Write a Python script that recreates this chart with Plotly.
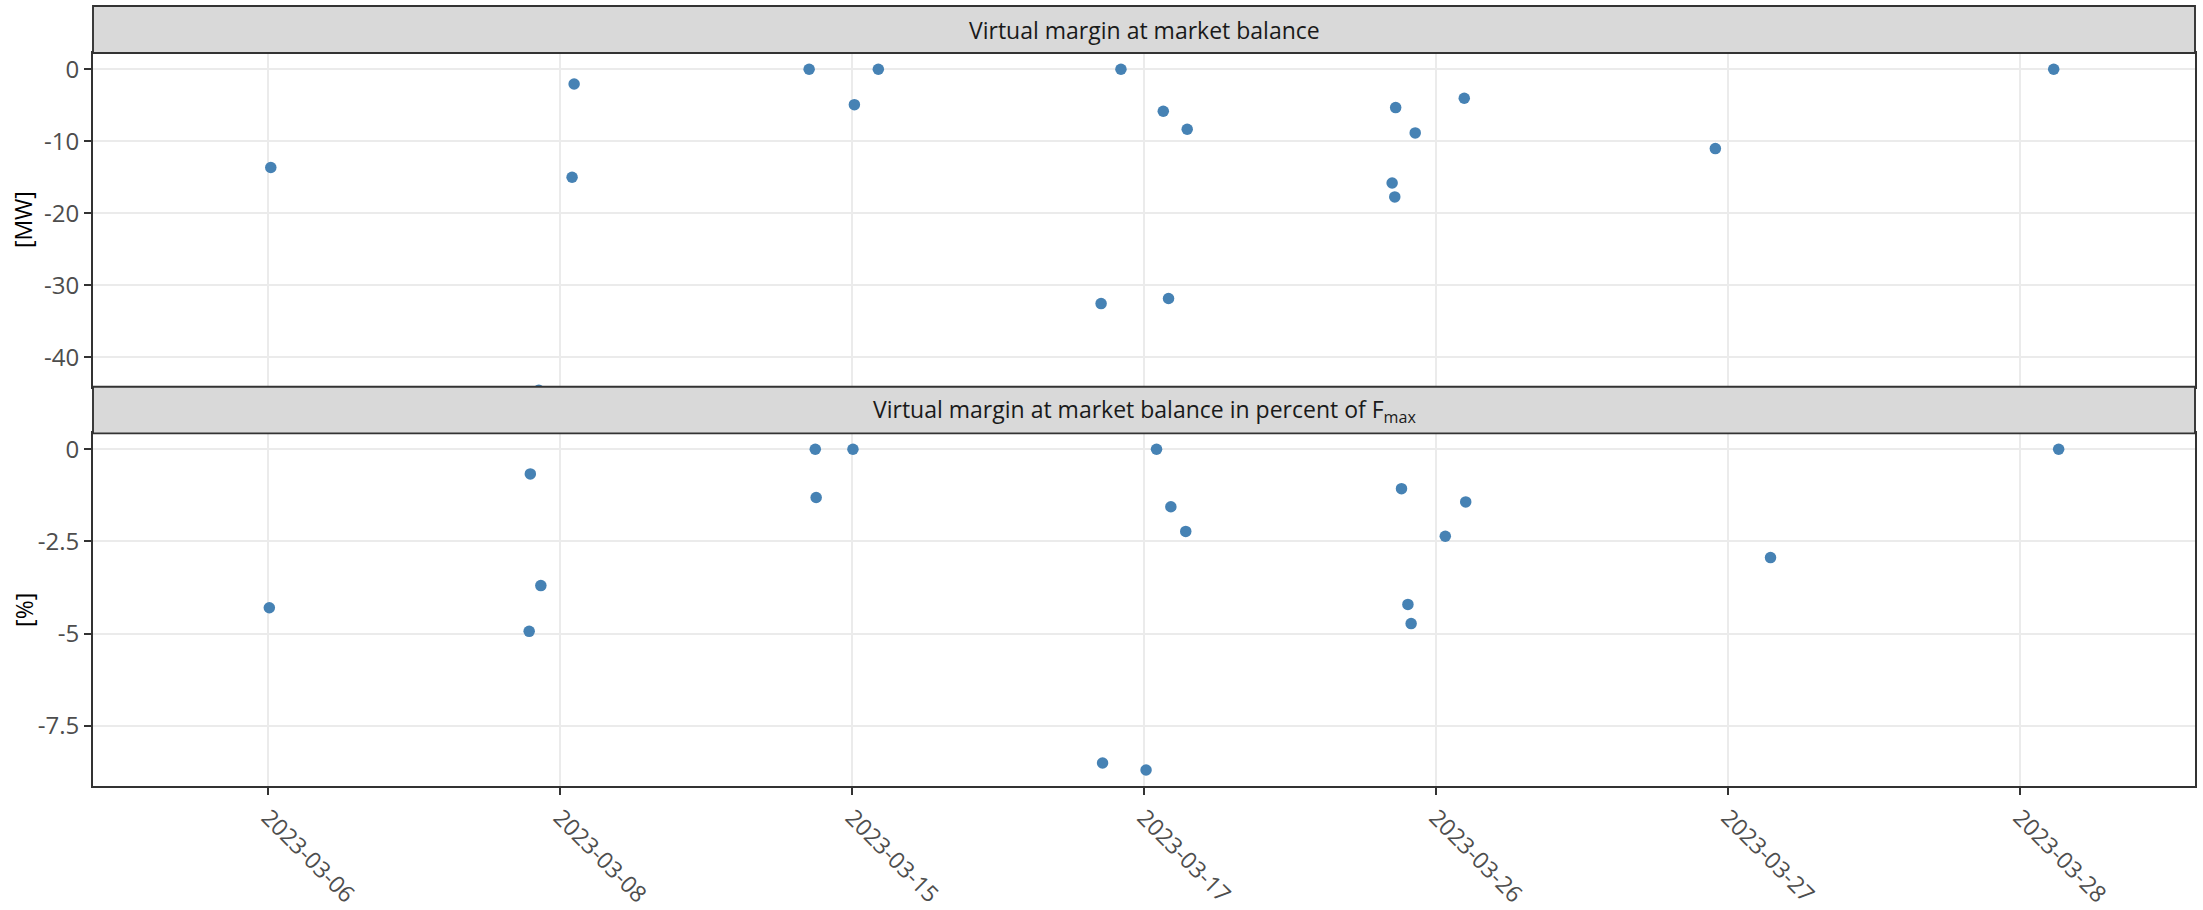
import plotly.graph_objects as go

# Category labels (equally spaced discrete axis)
dates = ["2023-03-06", "2023-03-08", "2023-03-15", "2023-03-17",
         "2023-03-26", "2023-03-27", "2023-03-28"]
date_pos = [1, 2, 3, 4, 5, 6, 7]

# Panel 1: virtual margin [MW] (jittered positions on the discrete axis)
mw_x = [1.009, 2.048, 2.041, 1.927,
        2.853, 3.090, 3.008,
        3.921, 4.066, 4.148, 3.853, 4.084,
        4.862, 4.929, 5.097, 4.850, 4.859,
        5.957, 7.116]
mw_y = [-13.65, -2.04, -15.0, -44.6,
        0.0, 0.0, -4.91,
        0.0, -5.83, -8.33, -32.55, -31.85,
        -5.32, -8.84, -4.03, -15.79, -17.73,
        -11.02, 0.0]

# Panel 2: virtual margin in percent of Fmax [%]
pct_x = [1.004, 1.898, 1.934, 1.894,
         2.874, 3.003, 2.877,
         4.043, 4.092, 4.143, 3.858, 4.007,
         4.882, 5.102, 5.032, 4.904, 4.915,
         6.146, 7.133]
pct_y = [-4.30, -0.67, -3.70, -4.94,
         0.0, 0.0, -1.31,
         0.0, -1.56, -2.23, -8.51, -8.70,
         -1.07, -1.43, -2.36, -4.21, -4.73,
         -2.94, 0.0]

mw_ticks = [0, -10, -20, -30, -40]
mw_ticktext = ["0", "-10", "-20", "-30", "-40"]
pct_ticks = [0, -2.5, -5, -7.5]
pct_ticktext = ["0", "-2.5", "-5", "-7.5"]

strip_titles = ["Virtual margin at market balance",
                "Virtual margin at market balance in percent of F<sub>max</sub>"]
y_titles = ["[MW]", "[%]"]

POINT = "rgba(70,130,180,1)"
BORDER = "rgba(51,51,51,1)"
GRID = "rgba(235,235,235,1)"
TICKTXT = "rgba(77,77,77,1)"
FONT = "Open Sans"

fig = go.Figure()
fig.add_trace(go.Scatter(x=mw_x, y=mw_y, mode="markers", xaxis="x2", yaxis="y2",
                         marker=dict(color=POINT, size=11.5), showlegend=False))
fig.add_trace(go.Scatter(x=pct_x, y=pct_y, mode="markers", xaxis="x", yaxis="y",
                         marker=dict(color=POINT, size=11.5), showlegend=False))

top_dom = [0.5119, 0.9397]
bot_dom = [0.0, 0.4521]

common_x = dict(range=[0.4, 7.6], showgrid=True, gridcolor=GRID, gridwidth=1.5,
                zeroline=False, showline=True, mirror=True, linecolor=BORDER,
                linewidth=1.9, tickvals=date_pos, ticktext=dates, fixedrange=True,
                automargin=False)
common_y = dict(showgrid=True, gridcolor=GRID, gridwidth=1.5, zeroline=False,
                showline=True, mirror=True, linecolor=BORDER, linewidth=1.9,
                ticks="outside", ticklen=7, tickwidth=1.5, tickcolor=BORDER,
                tickfont=dict(family=FONT, size=24, color=TICKTXT), fixedrange=True,
                automargin=False)

fig.update_layout(
    width=2203, height=910,
    margin=dict(l=93, r=8, t=6, b=124),
    paper_bgcolor="white", plot_bgcolor="white",
    font=dict(family=FONT),
    xaxis=dict(domain=[0, 1], anchor="y", ticks="outside", ticklen=7, tickwidth=1.5,
               tickcolor=BORDER, tickangle=45,
               tickfont=dict(family=FONT, size=23, color=TICKTXT), **common_x),
    xaxis2=dict(domain=[0, 1], anchor="y2", matches="x", showticklabels=False,
                ticks="", **common_x),
    yaxis=dict(domain=bot_dom, anchor="x", range=[-9.135, 0.43],
               tickvals=pct_ticks, ticktext=pct_ticktext, **common_y),
    yaxis2=dict(domain=top_dom, anchor="x2", range=[-44.1, 2.26],
                tickvals=mw_ticks, ticktext=mw_ticktext, **common_y),
)

strips = [(top_dom[1], 1.0, strip_titles[0]), (bot_dom[1], top_dom[0], strip_titles[1])]
for y0, y1, txt in strips:
    fig.add_shape(type="rect", xref="paper", yref="paper", x0=0, x1=1, y0=y0, y1=y1,
                  fillcolor="rgba(217,217,217,1)", line=dict(color=BORDER, width=1.9),
                  layer="above")
    fig.add_annotation(xref="paper", yref="paper", x=0.5, y=(y0 + y1) / 2, text=txt,
                       showarrow=False, xanchor="center", yanchor="middle",
                       font=dict(family=FONT, size=23, color="rgba(26,26,26,1)"))

# Y axis titles
for dom, txt in zip([top_dom, bot_dom], y_titles):
    fig.add_annotation(xref="paper", yref="paper", x=-0.0332, y=(dom[0] + dom[1]) / 2,
                       text=txt, showarrow=False, textangle=-90,
                       xanchor="center", yanchor="middle",
                       font=dict(family=FONT, size=23, color="black"))

fig.write_html("out.html", config={"displayModeBar": False},
               post_script="document.body.style.margin='0';document.body.style.padding='0';")
